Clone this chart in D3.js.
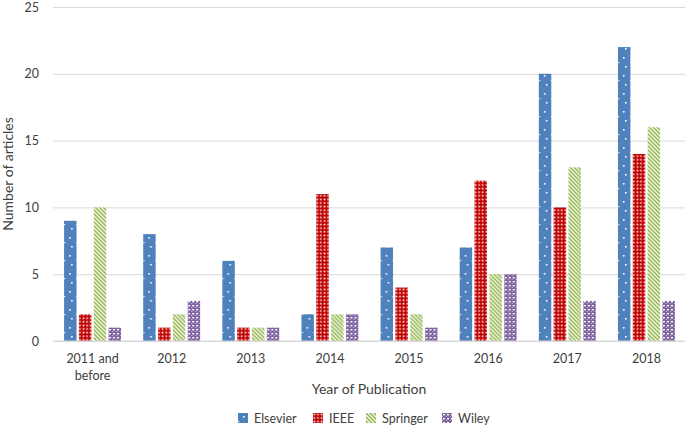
<!DOCTYPE html>
<html>
<head>
<meta charset="utf-8">
<script src="https://cdn.jsdelivr.net/npm/d3@7"></script>
<style>
  body { margin: 0; background: #fff; }
  svg { display: block; font-family: Lato, "Open Sans", sans-serif; }
</style>
</head>
<body>
<div id="chart"></div>
<script>
const years = ["2011 and before", "2012", "2013", "2014", "2015", "2016", "2017", "2018"];
const publishers = ["Elsevier", "IEEE", "Springer", "Wiley"];
const elsevier = [9, 8, 6, 2, 7, 7, 20, 22];
const ieee = [2, 1, 1, 11, 4, 12, 10, 14];
const springer = [10, 2, 1, 2, 2, 5, 13, 16];
const wiley = [1, 3, 1, 2, 1, 5, 3, 3];
const yTicks = [0, 5, 10, 15, 20, 25];

const seriesValues = [elsevier, ieee, springer, wiley];

let width = 685, height = 427;
let margin = { left: 53, right: -1, top: 7, bottom: 86 };

let svg = d3.select("#chart").append("svg")
  .attr("width", width).attr("height", height);

// fill patterns, roughly like the Excel ones
let defs = svg.append("defs");

let pElsevier = defs.append("pattern").attr("id", "p-elsevier")
  .attr("patternUnits", "userSpaceOnUse").attr("width", 12).attr("height", 18);
pElsevier.append("rect").attr("width", 12).attr("height", 18).attr("fill", "#4F81BD");
pElsevier.append("rect").attr("x", 5).attr("y", 3).attr("width", 1.6).attr("height", 1.6).attr("fill", "#fff");
pElsevier.append("rect").attr("x", 7).attr("y", 12).attr("width", 1.6).attr("height", 1.6).attr("fill", "#fff");
pElsevier.append("rect").attr("x", 0).attr("y", 8).attr("width", 1.4).attr("height", 1.2).attr("fill", "#dfe8f3");

let pIeee = defs.append("pattern").attr("id", "p-ieee")
  .attr("patternUnits", "userSpaceOnUse").attr("width", 3.6).attr("height", 3.6);
pIeee.append("rect").attr("width", 3.6).attr("height", 3.6).attr("fill", "#C00000");
pIeee.append("rect").attr("x", 0.6).attr("y", 0.6).attr("width", 1.6).attr("height", 1.6).attr("fill", "#fff");

let pSpringer = defs.append("pattern").attr("id", "p-springer")
  .attr("patternUnits", "userSpaceOnUse").attr("width", 4).attr("height", 4);
pSpringer.append("rect").attr("width", 4).attr("height", 4).attr("fill", "#fff");
pSpringer.append("path")
  .attr("d", "M-1,-1 L5,5 M-1,3 L1,5 M3,-1 L5,1")
  .attr("stroke", "#9BBB59").attr("stroke-width", 1.6);

let pWiley = defs.append("pattern").attr("id", "p-wiley")
  .attr("patternUnits", "userSpaceOnUse").attr("width", 4).attr("height", 4);
pWiley.append("rect").attr("width", 4).attr("height", 4).attr("fill", "#8064A2");
pWiley.append("rect").attr("x", 1).attr("y", 1).attr("width", 2).attr("height", 1.4).attr("fill", "#fff");
pWiley.append("rect").attr("x", 0).attr("y", 3).attr("width", 1).attr("height", 1).attr("fill", "#c9bcd9");

const fills = ["url(#p-elsevier)", "url(#p-ieee)", "url(#p-springer)", "url(#p-wiley)"];

let y = d3.scaleLinear()
  .domain([0, 25])
  .range([height - margin.bottom, margin.top]);

let x0 = d3.scaleBand()
  .domain(years)
  .range([margin.left, width - margin.right])
  .paddingInner(0.28)
  .paddingOuter(0.14);

let x1 = d3.scaleBand()
  .domain(publishers)
  .range([0, x0.bandwidth()])
  .paddingInner(0.16);

// gridlines + y labels
let yAxis = d3.axisLeft(y)
  .tickValues(yTicks)
  .tickSize(-(width - margin.left))
  .tickPadding(14);

svg.append("g")
  .attr("transform", `translate(${margin.left},0)`)
  .call(yAxis)
  .call(g => g.select(".domain").remove())
  .call(g => g.selectAll(".tick line").attr("stroke", "#D9D9D9"))
  .call(g => g.selectAll(".tick text")
    .attr("fill", "#404040").attr("font-size", 12.5)
    .attr("font-family", "Lato, sans-serif"));

// bars
let groups = svg.append("g").selectAll("g")
  .data(years)
  .enter()
  .append("g")
  .attr("transform", d => `translate(${x0(d)},0)`);

groups.selectAll("rect")
  .data((d, i) => publishers.map((p, j) => ({ p, j, v: seriesValues[j][i] })))
  .enter()
  .append("rect")
  .attr("x", d => x1(d.p))
  .attr("y", d => y(d.v))
  .attr("width", x1.bandwidth())
  .attr("height", d => y(0) - y(d.v))
  .attr("fill", d => fills[d.j]);

// x labels (wrap the long first category)
let xAxis = d3.axisBottom(x0).tickSize(0).tickPadding(0);
let xg = svg.append("g")
  .attr("transform", `translate(0,${y(0)})`)
  .call(xAxis)
  .call(g => g.select(".domain").remove());

xg.selectAll(".tick text")
  .attr("fill", "#404040").attr("font-size", 12.5)
  .attr("font-family", "Lato, sans-serif")
  .attr("y", 0).attr("dy", null)
  .each(function (d) {
    let t = d3.select(this);
    let words = d === "2011 and before" ? ["2011 and", "before"] : [d];
    t.text(null);
    words.forEach((w, k) => {
      t.append("tspan").attr("x", 0).attr("y", 22 + k * 17).text(w);
    });
  });

// baseline
svg.append("line")
  .attr("x1", margin.left).attr("x2", width)
  .attr("y1", y(0)).attr("y2", y(0))
  .attr("stroke", "#D9D9D9");

// axis titles
svg.append("text")
  .attr("x", (margin.left + width) / 2 + 0)
  .attr("y", 394)
  .attr("text-anchor", "middle")
  .attr("font-size", 14)
  .attr("fill", "#404040")
  .text("Year of Publication");

svg.append("text")
  .attr("transform", `translate(13,${(y(0) + y(25)) / 2}) rotate(-90)`)
  .attr("text-anchor", "middle")
  .attr("font-size", 14)
  .attr("fill", "#404040")
  .text("Number of articles");

// legend
const legendX = [238, 313, 366, 442];
let legend = svg.append("g").selectAll("g")
  .data(publishers)
  .enter()
  .append("g")
  .attr("transform", (d, i) => `translate(${legendX[i]},413)`);

legend.append("rect")
  .attr("width", 10).attr("height", 10)
  .attr("fill", (d, i) => fills[i]);

legend.append("text")
  .attr("x", 16).attr("y", 9.5)
  .attr("font-size", 12.5)
  .attr("fill", "#404040")
  .text(d => d);
</script>
</body>
</html>
